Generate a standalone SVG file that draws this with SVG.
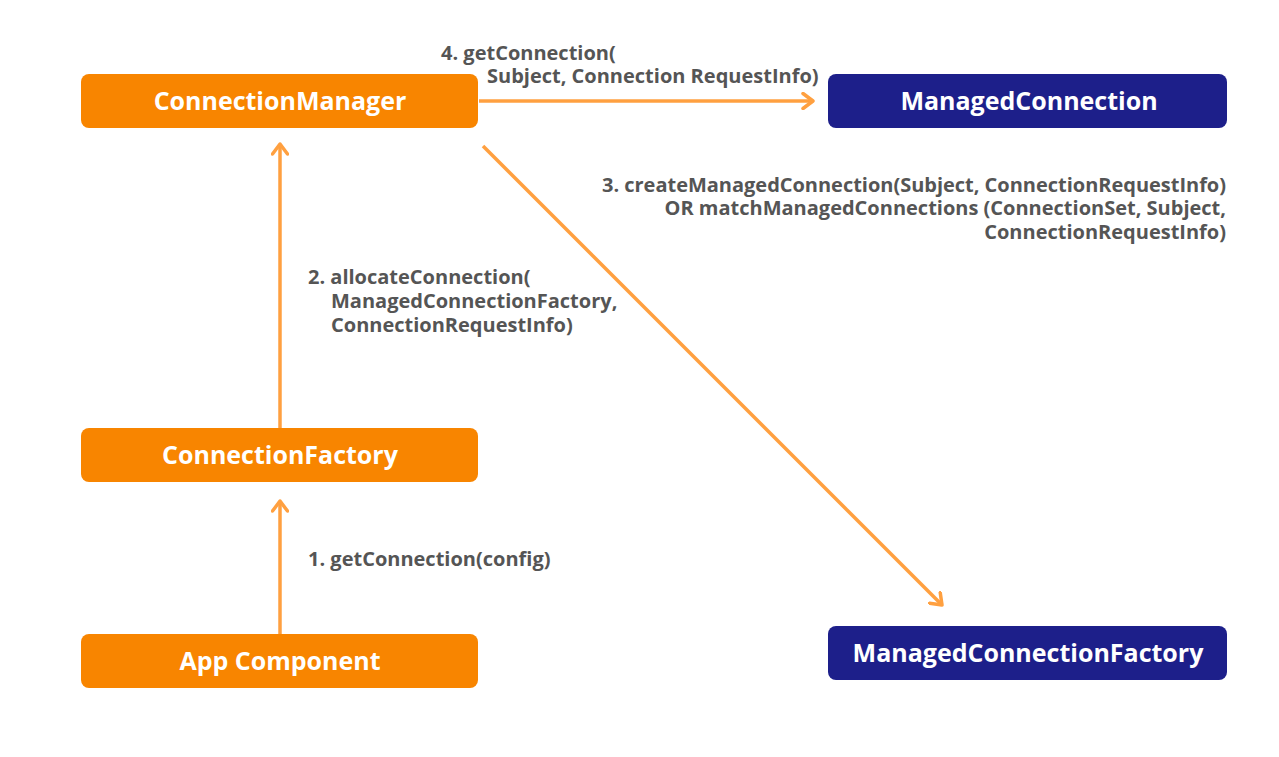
<svg xmlns="http://www.w3.org/2000/svg" width="1279" height="757" viewBox="0 0 1279 757">
<defs>
<style>
.orange{fill:#F88500;}
.navy{fill:#1D1F8A;}
.nt{font-family:"Open Sans","Liberation Sans",sans-serif;font-weight:700;font-size:25px;fill:#fff;text-anchor:middle;}
.lb{font-family:"Open Sans","Liberation Sans",sans-serif;font-weight:700;font-size:20px;fill:#555555;}
.cn{stroke:#FFA040;stroke-width:3.5;fill:none;marker-end:url(#ah);}
</style>
<marker id="ah" markerWidth="16" markerHeight="18" refX="12" refY="9" orient="auto" markerUnits="userSpaceOnUse">
<path d="M2,1.5 L12,9 L2,16.5" fill="none" stroke="#FFA040" stroke-width="3.5" stroke-linecap="round" stroke-linejoin="round"/>
</marker>
</defs>
<rect width="1279" height="757" fill="#fff"/>
<g id="connectors">
<line class="cn" x1="280" y1="634" x2="280" y2="501"/>
<line class="cn" x1="280" y1="428" x2="280" y2="144"/>
<line class="cn" x1="479" y1="101" x2="813" y2="101"/>
<line class="cn" x1="483" y1="146" x2="942" y2="605"/>
</g>
<g id="labels">
<text class="lb" x="441" y="60">4. getConnection(</text>
<text class="lb" x="487" y="83">Subject, Connection RequestInfo)</text>
<text class="lb" x="602" y="192" textLength="624" lengthAdjust="spacing">3. createManagedConnection(Subject, ConnectionRequestInfo)</text>
<text class="lb" text-anchor="end" x="1226" y="215">OR matchManagedConnections (ConnectionSet, Subject,</text>
<text class="lb" text-anchor="end" x="1226" y="239">ConnectionRequestInfo)</text>
<text class="lb" x="308" y="284">2. allocateConnection(</text>
<text class="lb" x="331" y="308">ManagedConnectionFactory,</text>
<text class="lb" x="331" y="332">ConnectionRequestInfo)</text>
<text class="lb" x="308" y="566">1. getConnection(config)</text>
</g>
<g id="connection-manager">
<rect class="orange" x="81" y="74" width="397" height="54" rx="8"/>
<text class="nt" x="280" y="110">ConnectionManager</text>
</g>
<g id="managed-connection">
<rect class="navy" x="828" y="74" width="399" height="54" rx="8"/>
<text class="nt" x="1029" y="110">ManagedConnection</text>
</g>
<g id="connection-factory">
<rect class="orange" x="81" y="428" width="397" height="54" rx="8"/>
<text class="nt" x="280" y="464">ConnectionFactory</text>
</g>
<g id="app-component">
<rect class="orange" x="81" y="634" width="397" height="54" rx="8"/>
<text class="nt" x="280" y="670">App Component</text>
</g>
<g id="managed-connection-factory">
<rect class="navy" x="828" y="626" width="399" height="54" rx="8"/>
<text class="nt" x="1028" y="662">ManagedConnectionFactory</text>
</g>
</svg>
